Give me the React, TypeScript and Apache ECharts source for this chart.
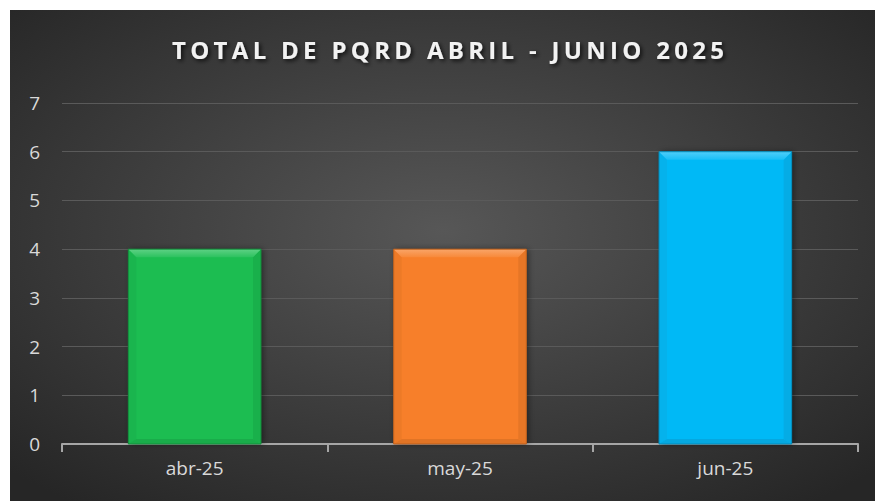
import React, { useEffect, useRef } from "react";
import * as echarts from "echarts";

const categories = ["abr-25", "may-25", "jun-25"];
const values = [4, 4, 6];
const barColors = ["#1bbd51", "#f77f29", "#05b9f6"];
const yTicks = [0, 1, 2, 3, 4, 5, 6, 7];
const titleText = "TOTAL DE PQRD ABRIL - JUNIO 2025";

function shade(hex: string, amt: number): string {
  const n = parseInt(hex.slice(1), 16);
  let r = (n >> 16) & 255, g = (n >> 8) & 255, b = n & 255;
  if (amt >= 0) {
    r = Math.round(r + (255 - r) * amt);
    g = Math.round(g + (255 - g) * amt);
    b = Math.round(b + (255 - b) * amt);
  } else {
    r = Math.round(r * (1 + amt));
    g = Math.round(g * (1 + amt));
    b = Math.round(b * (1 + amt));
  }
  return `rgb(${r},${g},${b})`;
}

export default function App() {
  const ref = useRef<HTMLDivElement>(null);
  useEffect(() => {
    document.body.style.margin = "0";
    const styleEl = document.createElement("style");
    styleEl.textContent =
      'svg text[style*="TitleFace"], svg text[font-family*="TitleFace"] { letter-spacing: 4.3px; }';
    document.head.appendChild(styleEl);
    const chart = echarts.init(ref.current!, undefined, { renderer: "svg" });
    const data = values.map((v, i) => ({ value: [i, v], itemStyle: { color: barColors[i] } }));
    chart.setOption({
      animation: false,
      backgroundColor: "#ffffff",
      graphic: [
        {
          type: "rect",
          z: -10,
          silent: true,
          shape: { x: 10, y: 10, width: 865, height: 491 },
          style: {
            fill: {
              type: "radial",
              x: 0.5,
              y: 0.45,
              r: 0.7,
              colorStops: [
                { offset: 0, color: "#575757" },
                { offset: 1, color: "#262626" },
              ],
            },
          },
        },
        {
          type: "text",
          left: 172,
          top: 37,
          style: {
            text: titleText,
            fill: "#f2f2f2",
            font: "bold 24px 'Open Sans', TitleFace",
            textShadowColor: "rgba(0,0,0,0.75)",
            textShadowBlur: 4,
            textShadowOffsetX: 2,
            textShadowOffsetY: 2,
          },
        },
      ],
      grid: { left: 62, right: 17, top: 103, bottom: 57, containLabel: false },
      xAxis: {
        type: "category",
        data: categories,
        axisLine: { show: true, lineStyle: { color: "#a6a6a6", width: 2 } },
        axisTick: { show: true, length: 8, lineStyle: { color: "#a6a6a6", width: 2 } },
        axisLabel: { color: "#d9d9d9", fontSize: 19, fontFamily: "'Open Sans'", margin: 14 },
        splitLine: { show: false },
      },
      yAxis: {
        type: "value",
        min: 0,
        max: 7,
        interval: 1,
        axisLine: { show: false },
        axisTick: { show: false },
        axisLabel: {
          color: "#d9d9d9",
          fontSize: 19,
          fontFamily: "'Open Sans'",
          margin: 22,
          formatter: (v: number) => (yTicks.includes(v) ? String(v) : ""),
        },
        splitLine: { lineStyle: { color: "#5a5a5a", width: 1 } },
      },
      series: [
        {
          type: "custom",
          data,
          renderItem: (params: any, api: any) => {
            const idx = api.value(0);
            const val = api.value(1);
            const top = api.coord([idx, val]);
            const base = api.coord([idx, 0]);
            const bw = api.size([1, 0])[0] * 0.5;
            const x0 = top[0] - bw / 2;
            const x1 = top[0] + bw / 2;
            const y0 = top[1];
            const y1 = base[1];
            const c = barColors[idx];
            const b = 8;
            return {
              type: "group",
              children: [
                {
                  type: "rect",
                  shape: { x: x0, y: y0, width: bw, height: y1 - y0 },
                  style: {
                    fill: c,
                    shadowColor: "rgba(0,0,0,0.45)",
                    shadowBlur: 6,
                    shadowOffsetX: 2,
                    shadowOffsetY: 0,
                  },
                },
                {
                  type: "polygon",
                  shape: { points: [[x0, y0], [x0 + b, y0 + b], [x0 + b, y1 - 5], [x0, y1]] },
                  style: { fill: shade(c, -0.04) },
                },
                {
                  type: "polygon",
                  shape: { points: [[x1, y0], [x1 - b, y0 + b], [x1 - b, y1 - 5], [x1, y1]] },
                  style: { fill: shade(c, -0.07) },
                },
                {
                  type: "polygon",
                  shape: { points: [[x0, y1], [x0 + b, y1 - 5], [x1 - b, y1 - 5], [x1, y1]] },
                  style: { fill: shade(c, -0.09) },
                },
                {
                  type: "polygon",
                  shape: { points: [[x0, y0], [x1, y0], [x1 - b, y0 + b], [x0 + b, y0 + b]] },
                  style: {
                    fill: {
                      type: "linear",
                      x: 0,
                      y: 0,
                      x2: 0,
                      y2: 1,
                      colorStops: [
                        { offset: 0, color: shade(c, 0.3) },
                        { offset: 1, color: shade(c, 0.08) },
                      ],
                    },
                  },
                },
                {
                  type: "rect",
                  shape: { x: x0, y: y0, width: bw, height: y1 - y0 },
                  style: { fill: "none", stroke: shade(c, -0.25), lineWidth: 1 },
                },
              ],
            };
          },
        },
      ],
    });
    return () => {
      chart.dispose();
      styleEl.remove();
    };
  }, []);
  return <div ref={ref} style={{ width: 875, height: 501 }} />;
}
